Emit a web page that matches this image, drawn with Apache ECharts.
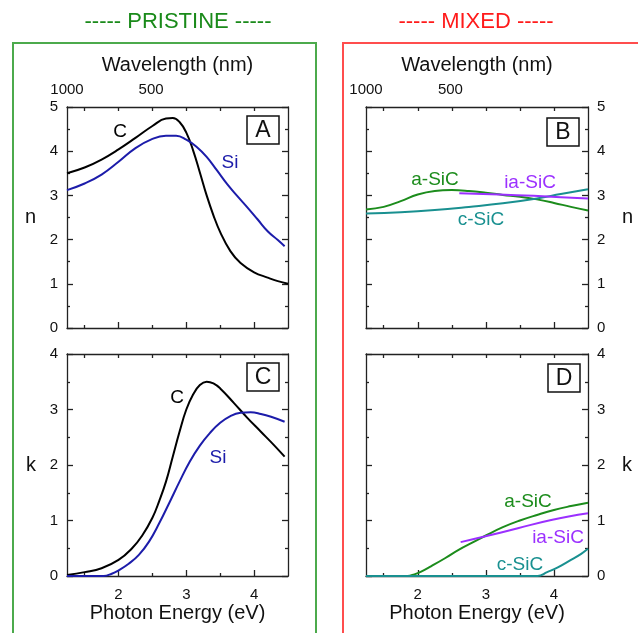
<!DOCTYPE html>
<html lang="en">
<head>
    <meta charset="UTF-8">
    <title>n, k spectra - pristine vs mixed</title>
    <script type="text/javascript" src="https://cdn.jsdelivr.net/npm/echarts@6.0.0/dist/echarts.min.js"></script>
    <style>
        html, body { margin: 0; padding: 0; background: #fff; }
    </style>
</head>
<body>
<div id="chart" style="width: 638px;height: 633px"></div>
<script type="text/javascript">
    // photon energy (eV), value pairs
    var nC = [[1.24,3.50],[1.5,3.63],[1.75,3.81],[2.0,4.04],[2.25,4.30],[2.5,4.57],[2.7,4.74],[2.8,4.75],[2.9,4.66],[3.0,4.42],[3.1,4.02],[3.2,3.52],[3.3,3.00],[3.4,2.55],[3.5,2.17],[3.65,1.74],[3.8,1.47],[4.0,1.26],[4.2,1.14],[4.35,1.06],[4.5,1.00]];
    var nSi = [[1.24,3.12],[1.5,3.27],[1.75,3.47],[2.0,3.76],[2.25,4.07],[2.5,4.28],[2.7,4.35],[2.85,4.35],[3.0,4.26],[3.15,4.10],[3.3,3.87],[3.45,3.57],[3.6,3.26],[3.75,2.99],[3.9,2.73],[4.05,2.46],[4.2,2.19],[4.35,1.99],[4.45,1.85]];
    var kC = [[1.24,0.02],[1.5,0.07],[1.75,0.14],[2.0,0.29],[2.2,0.50],[2.35,0.73],[2.5,1.05],[2.6,1.35],[2.7,1.70],[2.8,2.15],[2.9,2.60],[3.0,3.00],[3.1,3.27],[3.2,3.44],[3.3,3.50],[3.4,3.47],[3.5,3.38],[3.7,3.12],[3.9,2.85],[4.1,2.60],[4.3,2.35],[4.45,2.15]];
    var kSi = [[1.24,0],[1.5,0],[1.78,0],[1.9,0.04],[2.0,0.10],[2.15,0.22],[2.3,0.38],[2.45,0.62],[2.6,0.95],[2.75,1.32],[2.9,1.70],[3.05,2.06],[3.2,2.35],[3.35,2.58],[3.5,2.76],[3.65,2.88],[3.8,2.94],[3.95,2.95],[4.1,2.92],[4.25,2.87],[4.45,2.78]];

    var nASiC = [[1.24,2.68],[1.5,2.74],[1.75,2.87],[2.0,3.02],[2.25,3.10],[2.5,3.12],[2.75,3.10],[3.0,3.06],[3.25,3.01],[3.5,2.97],[3.75,2.91],[4.0,2.83],[4.25,2.74],[4.5,2.66]];
    var nCSiC = [[1.24,2.59],[1.75,2.62],[2.25,2.67],[2.75,2.74],[3.25,2.82],[3.75,2.93],[4.1,3.03],[4.5,3.14]];
    var nIaSiC = [[2.61,3.05],[3.2,3.02],[3.7,2.99],[4.1,2.96],[4.5,2.93]];
    var kASiC = [[1.24,0],[1.85,0],[1.95,0.03],[2.05,0.08],[2.2,0.18],[2.4,0.32],[2.6,0.47],[2.8,0.60],[3.0,0.73],[3.25,0.88],[3.5,1.00],[3.75,1.10],[4.0,1.19],[4.25,1.26],[4.5,1.32]];
    var kIaSiC = [[2.63,0.61],[2.98,0.71],[3.47,0.86],[3.96,1.01],[4.5,1.13]];
    var kCSiC = [[1.24,0],[3.76,0],[3.9,0.07],[4.05,0.15],[4.25,0.29],[4.4,0.40],[4.5,0.49]];

    var energyMajor = [2, 3, 4];
    var energyMinor = [1.5, 2.5, 3.5];
    var wavelengthTicks = [1000, 500];

    var font = 'Liberation Sans, Arial, sans-serif';
    var axisColor = '#222';
    var cBlack = '#000000', cBlue = '#1c1caa', cGreen = '#1c8c1c', cTeal = '#199090', cPurple = '#9b30ff';

    var panels = [
        {left: 67, top: 107, width: 221, height: 221, ymax: 5, side: 'left', yname: 'n', top_labels: true, bottom_labels: false},
        {left: 366, top: 107, width: 222, height: 221, ymax: 5, side: 'right', yname: 'n', top_labels: true, bottom_labels: false},
        {left: 67, top: 354, width: 221, height: 222, ymax: 4, side: 'left', yname: 'k', top_labels: false, bottom_labels: true},
        {left: 366, top: 354, width: 222, height: 222, ymax: 4, side: 'right', yname: 'k', top_labels: false, bottom_labels: true}
    ];

    var grids = [], xAxes = [], yAxes = [];
    var lineStyle = {color: axisColor, width: 1.3};
    var nameStyle = {fontSize: 20, fontFamily: font, color: '#111'};

    panels.forEach(function (p, i) {
        grids.push({left: p.left, top: p.top, width: p.width, height: p.height, show: false, outerBoundsMode: 'none'});
        // bottom axis, major ticks + labels
        xAxes.push({
            gridIndex: i, type: 'value', position: 'bottom', min: 1.24, max: 4.5,
            axisLine: {show: true, lineStyle: lineStyle},
            axisTick: {show: true, inside: true, length: 6, customValues: energyMajor, lineStyle: lineStyle},
            axisLabel: {show: p.bottom_labels, customValues: energyMajor, margin: 11, color: '#111', fontSize: 15, fontFamily: font},
            splitLine: {show: false},
            name: p.bottom_labels ? 'Photon Energy (eV)' : '', nameLocation: 'middle', nameGap: 27,
            nameTextStyle: nameStyle
        });
        // bottom axis, minor ticks
        xAxes.push({
            gridIndex: i, type: 'value', position: 'bottom', min: 1.24, max: 4.5,
            axisLine: {show: false},
            axisTick: {show: true, inside: true, length: 3, customValues: energyMinor, lineStyle: lineStyle},
            axisLabel: {show: false}, splitLine: {show: false}
        });
        // top axis, wavelength labels
        xAxes.push({
            gridIndex: i, type: 'value', position: 'top', min: 1.24, max: 4.5,
            axisLine: {show: true, lineStyle: lineStyle},
            axisTick: {show: true, inside: true, length: 4, customValues: energyMajor.concat(energyMinor), lineStyle: lineStyle},
            axisLabel: {
                show: p.top_labels, margin: 10, color: '#111', fontSize: 15, fontFamily: font,
                customValues: wavelengthTicks.map(function (w) { return 1240 / w; }),
                formatter: function (v) { return String(Math.round(1240 / v)); }
            },
            splitLine: {show: false},
            name: p.top_labels ? 'Wavelength (nm)' : '', nameLocation: 'middle', nameGap: 32,
            nameTextStyle: nameStyle
        });
        ['left', 'right'].forEach(function (pos) {
            var labelled = pos === p.side;
            yAxes.push({
                gridIndex: i, type: 'value', position: pos, min: 0, max: p.ymax, interval: 1,
                axisLine: {show: true, lineStyle: lineStyle},
                axisTick: {show: true, inside: true, length: 6, lineStyle: lineStyle},
                minorTick: {show: true, splitNumber: 2, length: 3, lineStyle: lineStyle},
                axisLabel: {show: labelled, margin: 9, color: '#111', fontSize: 15, fontFamily: font},
                splitLine: {show: false}, minorSplitLine: {show: false},
                name: labelled ? p.yname : '', nameLocation: 'middle', nameRotate: 0,
                nameGap: pos === 'left' ? 31 : 34,
                nameTextStyle: nameStyle
            });
        });
    });

    function curve(data, color, panel) {
        return {
            type: 'line', data: data, xAxisIndex: panel * 3, yAxisIndex: panel * 2,
            smooth: 0.45, showSymbol: false, silent: true,
            lineStyle: {color: color, width: 2}, itemStyle: {color: color}
        };
    }

    var series = [
        curve(nC, cBlack, 0), curve(nSi, cBlue, 0),
        curve(nASiC, cGreen, 1), curve(nCSiC, cTeal, 1), curve(nIaSiC, cPurple, 1),
        curve(kC, cBlack, 2), curve(kSi, cBlue, 2),
        curve(kASiC, cGreen, 3), curve(kCSiC, cTeal, 3), curve(kIaSiC, cPurple, 3)
    ];

    function letterBox(x, y, s) {
        return {type: 'group', x: x, y: y, children: [
            {type: 'rect', shape: {x: 0, y: 0, width: 32, height: 28}, style: {fill: '#fff', stroke: '#111', lineWidth: 1.5}},
            {type: 'text', x: 16, y: 14.5, style: {text: s, fill: '#111', fontSize: 23, fontFamily: font, textAlign: 'center', textVerticalAlign: 'middle'}}
        ]};
    }
    function plainText(x, y, s, color, size) {
        return {type: 'text', x: x, y: y, silent: true,
            style: {text: s, fill: color, fontSize: size || 19, fontFamily: font, textAlign: 'center', textVerticalAlign: 'middle'}};
    }

    var graphics = [
        {type: 'rect', shape: {x: 13, y: 43, width: 303, height: 620}, style: {fill: 'none', stroke: '#4caa4c', lineWidth: 2}},
        {type: 'rect', shape: {x: 343, y: 43, width: 320, height: 620}, style: {fill: 'none', stroke: '#ff4d4d', lineWidth: 2}},
        plainText(178, 22, '----- PRISTINE -----', '#1a8a1a', 22),
        plainText(476, 22, '----- MIXED -----', '#ff1a1a', 22),
        letterBox(247, 116, 'A'), letterBox(547, 118, 'B'),
        letterBox(247, 363, 'C'), letterBox(548, 364, 'D'),
        plainText(120, 132, 'C', cBlack), plainText(230, 163, 'Si', cBlue),
        plainText(177, 398, 'C', cBlack), plainText(218, 458, 'Si', cBlue),
        plainText(435, 180, 'a-SiC', cGreen), plainText(530, 183, 'ia-SiC', cPurple), plainText(481, 220, 'c-SiC', cTeal),
        plainText(528, 502, 'a-SiC', cGreen), plainText(558, 538, 'ia-SiC', cPurple), plainText(520, 565, 'c-SiC', cTeal)
    ];

    var myChart = echarts.init(document.getElementById('chart'));
    var option = {
        animation: false,
        backgroundColor: '#ffffff',
        grid: grids,
        xAxis: xAxes,
        yAxis: yAxes,
        series: series,
        graphic: graphics
    };
    option && myChart.setOption(option);
</script>
</body>
</html>
